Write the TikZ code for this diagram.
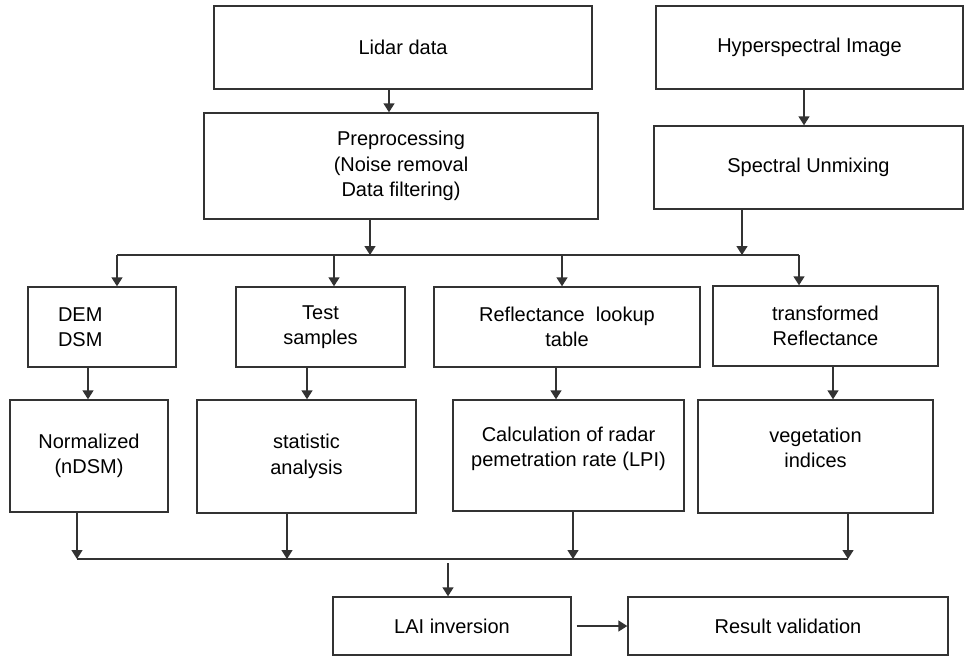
\documentclass[tikz,border=0pt]{standalone}
\usepackage{fontspec}
\setmainfont{Liberation Sans}
\usetikzlibrary{arrows.meta}

\begin{document}
\begin{tikzpicture}[x=1pt,y=-1pt]
	
	% Define basic styles
	\tikzset{
		box/.style={
			rectangle, draw=black!80, line width=1.4pt, align=center,
			inner sep=2pt, font=\fontsize{20}{25.5}\selectfont
		},
		arrow/.style={
			draw=black!80, line width=1.4pt, -{Triangle[width=11pt,length=9pt]}
		},
		bus/.style={
			draw=black!80, line width=1.4pt
		}
	}
	\useasboundingbox (0,0) rectangle (965,657);
	
	% Nodes
	\node[box, minimum width=378pt, minimum height=83pt] (lidar) at (403,47.5) {Lidar data};
	\node[box, minimum width=394pt, minimum height=106pt] (prep) at (401,166) {Preprocessing\\(Noise removal\\Data filtering)};
	\node[box, minimum width=307pt, minimum height=83pt] (hyper) at (809.5,47.5) {Hyperspectral Image};
	\node[box, minimum width=309pt, minimum height=83pt] (unmix) at (808.5,167.5) {Spectral Unmixing};
	
	\node[box, minimum width=148pt, minimum height=80pt, text width=88pt, inner xsep=30pt, align=left] (dem) at (102,327) {DEM\\DSM};
	\node[box, minimum width=169pt, minimum height=80pt] (test) at (320.5,327) {Test\\samples};
	\node[box, minimum width=266pt, minimum height=80pt] (lookup) at (567,327) {Reflectance\ \ lookup\\table};
	\node[box, minimum width=225pt, minimum height=80pt] (trans) at (825.5,326) {transformed\\Reflectance};
	
	\node[box, minimum width=158pt, minimum height=112pt] (norm) at (89,456) {Normalized\\(nDSM)};
	\node[box, minimum width=219pt, minimum height=113pt] (stat) at (306.5,456.5) {statistic\\analysis};
	\node[box, minimum width=231pt, minimum height=111pt, text depth=18pt] (calc) at (568.5,455.5) {Calculation of radar\\pemetration rate (LPI)};
	\node[box, minimum width=235pt, minimum height=113pt, text depth=18pt] (veg) at (815.5,456.5) {vegetation\\indices};
	
	\node[box, minimum width=238pt, minimum height=58pt] (lai) at (452,626) {LAI inversion};
	\node[box, minimum width=320pt, minimum height=58pt] (result) at (788,626) {Result validation};
	
	% Bus lines
	\coordinate (upL) at (117,255);
	\coordinate (upR) at (799,255);
	\coordinate (lowL) at (77,559);
	\coordinate (lowR) at (848,559);
	\coordinate (laiin) at (448,563);
	\draw[bus] (upL) -- (upR);
	\draw[bus] (lowL) -- (lowR);
	
	% Arrows
	\draw[arrow] ([xshift=-14pt]lidar.south) -- ([xshift=-14pt]lidar.south |- prep.north);
	\draw[arrow] ([xshift=-5.5pt]hyper.south) -- ([xshift=-5.5pt]hyper.south |- unmix.north);
	\draw[arrow] ([xshift=-31pt]prep.south) -- ([xshift=-31pt]prep.south |- upL);
	\draw[arrow] ([xshift=-66.5pt]unmix.south) -- ([xshift=-66.5pt]unmix.south |- upR);
	
	\draw[arrow] (upL) -- (upL |- dem.north);
	\draw[arrow] ([xshift=13.5pt]test.north |- upL) -- ([xshift=13.5pt]test.north);
	\draw[arrow] ([xshift=-5pt]lookup.north |- upL) -- ([xshift=-5pt]lookup.north);
	\draw[arrow] (upR) -- (upR |- trans.north);
	
	\draw[arrow] ([xshift=-14pt]dem.south) -- ([xshift=-14pt]dem.south |- norm.north);
	\draw[arrow] ([xshift=-13.5pt]test.south) -- ([xshift=-13.5pt]test.south |- stat.north);
	\draw[arrow] ([xshift=-11pt]lookup.south) -- ([xshift=-11pt]lookup.south |- calc.north);
	\draw[arrow] ([xshift=7.5pt]trans.south) -- ([xshift=7.5pt]trans.south |- veg.north);
	
	\draw[arrow] (norm.south -| lowL) -- (lowL);
	\draw[arrow] ([xshift=-19.5pt]stat.south) -- ([xshift=-19.5pt]stat.south |- lowL);
	\draw[arrow] ([xshift=4.5pt]calc.south) -- ([xshift=4.5pt]calc.south |- lowL);
	\draw[arrow] (veg.south -| lowR) -- (lowR);
	
	\draw[arrow] (laiin) -- (laiin |- lai.north);
	\draw[arrow] ([xshift=5pt]lai.east) -- (result.west);
	
\end{tikzpicture}
\end{document}
